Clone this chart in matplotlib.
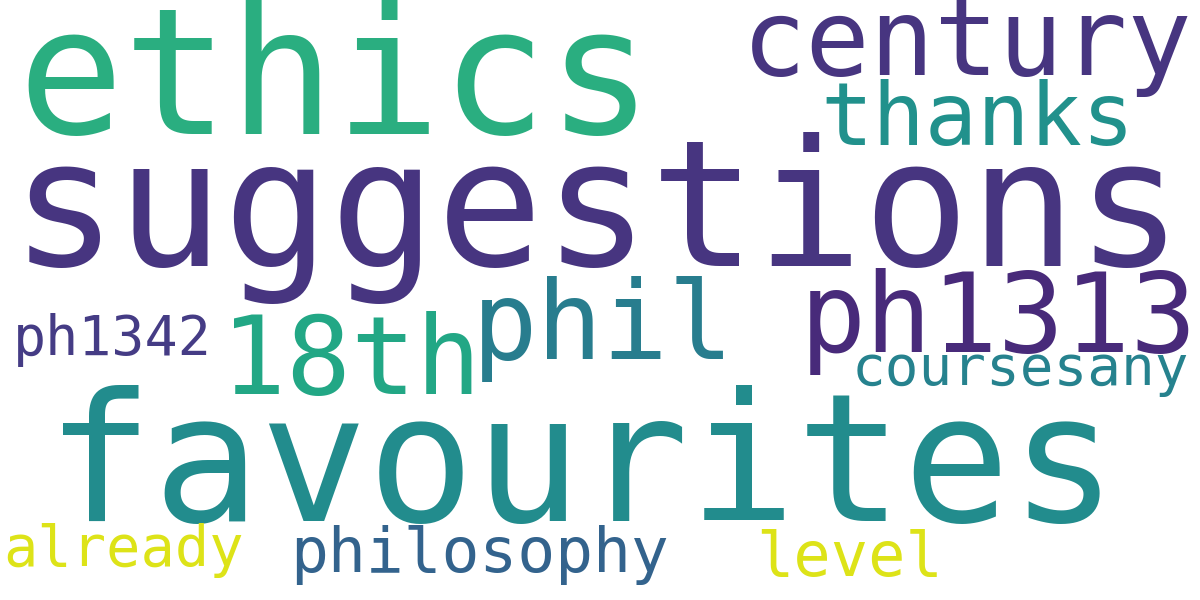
"""Word cloud of course-feedback terms, redrawn with plain matplotlib text."""
import matplotlib
matplotlib.use("Agg")
import matplotlib.pyplot as plt

# ---------------------------------------------------------------------------
# Data: words and their weights (font size in pixels in the original cloud)
# ---------------------------------------------------------------------------
words = ["favourites", "suggestions", "ethics", "ph1313", "phil", "18th",
         "century", "thanks", "philosophy", "level", "already", "coursesany",
         "ph1342"]
weights = [178, 177, 176, 110, 109, 108, 107, 87, 63, 62, 57, 56, 55]

# viridis-like colour per word
colors = ["#228c8d", "#473580", "#2aae80", "#482a7a", "#287d8e", "#22a785",
          "#473580", "#21918c", "#33638d", "#dde318", "#dde318", "#26828e",
          "#453c85"]

# layout: (x centre, baseline y) in image pixels
layout = [(582, 521), (597, 266), (335, 134), (998, 352), (603, 359),
          (351, 394), (967, 75), (977, 145), (480, 572), (850, 576),
          (124, 566), (1020, 385), (112, 355)]

W, H, DPI = 1200, 600, 100

fig = plt.figure(figsize=(W / DPI, H / DPI), dpi=DPI)
fig.patch.set_facecolor("white")
ax = fig.add_axes([0, 0, 1, 1])
ax.set_xlim(0, W)
ax.set_ylim(H, 0)
ax.axis("off")

for word, size, col, (x, y) in zip(words, weights, colors, layout):
    # px -> pt at this dpi
    ax.text(x, y, word, fontsize=size * 72 / DPI, color=col,
            family="DejaVu Sans Mono", ha="center", va="baseline")

fig.savefig("out.png", dpi=DPI, facecolor="white")
plt.close(fig)
